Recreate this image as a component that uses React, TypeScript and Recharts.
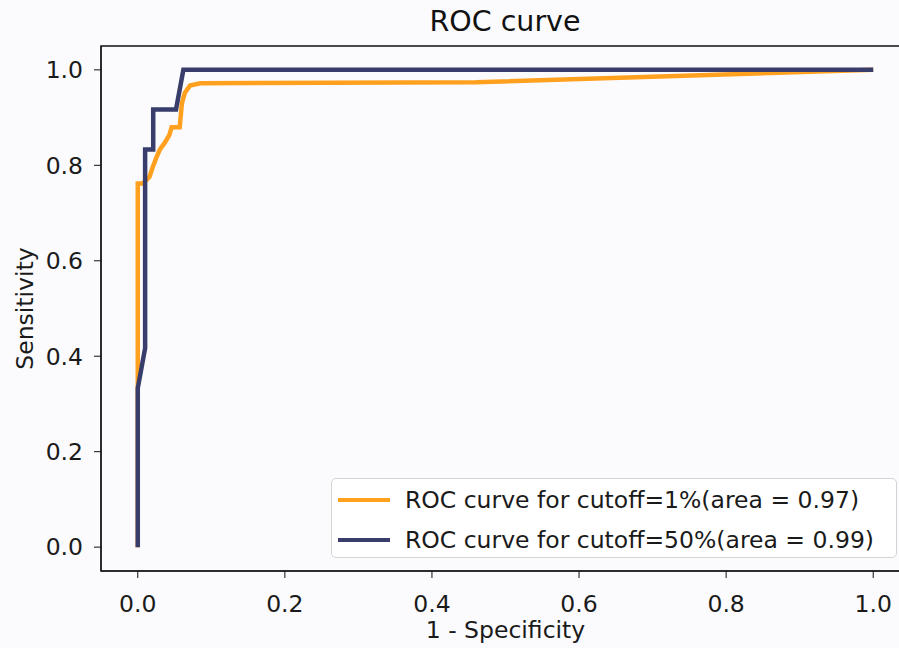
import React from "react";
import { LineChart, Line, XAxis, YAxis, ReferenceArea } from "recharts";

const cutoff1X = [0, 0, 0.007, 0.016, 0.02, 0.025, 0.03, 0.037, 0.043, 0.046, 0.057, 0.06, 0.064, 0.071, 0.085, 0.46, 1.0];
const cutoff1Y = [0, 0.762, 0.762, 0.776, 0.795, 0.815, 0.833, 0.848, 0.864, 0.88, 0.88, 0.93, 0.952, 0.967, 0.972, 0.974, 1.0];
const cutoff50X = [0, 0, 0.01, 0.01, 0.021, 0.021, 0.052, 0.062, 1.0];
const cutoff50Y = [0, 0.333, 0.417, 0.833, 0.833, 0.917, 0.917, 1.0, 1.0];
const tickValues = [0, 0.2, 0.4, 0.6, 0.8, 1.0];
const seriesNames = ["ROC curve for cutoff=1%(area = 0.97)", "ROC curve for cutoff=50%(area = 0.99)"];
const seriesColors = ["#FFA01F", "#383D6C"];

const toPoints = (xs: number[], ys: number[]) => xs.map((x, i) => ({ x, y: ys[i] }));
const data1 = toPoints(cutoff1X, cutoff1Y);
const data50 = toPoints(cutoff50X, cutoff50Y);

const FONT = "'DejaVu Sans', sans-serif";
const FS = 23.5;

const LegendBox = () => (
  <div
    style={{
      position: "absolute",
      left: 331,
      top: 478,
      width: 566,
      height: 80,
      boxSizing: "border-box",
      border: "1.5px solid #d4d4d4",
      borderRadius: 5,
      background: "rgba(255,255,255,0.85)",
      fontFamily: FONT,
      fontSize: FS,
      color: "#1a1a1a",
      paddingTop: 3,
    }}
  >
    {seriesNames.map((n, i) => (
      <div key={n} style={{ display: "flex", alignItems: "center", height: 36, marginBottom: i === 0 ? 4 : 0 }}>
        <div style={{ width: 52, height: 4, background: seriesColors[i], marginLeft: 6, marginRight: 15 }} />
        <span>{n}</span>
      </div>
    ))}
  </div>
);

export default function App() {
  return (
    <div style={{ position: "fixed", left: 0, top: 0, width: 899, height: 648, overflow: "hidden", background: "#FBFBFD" }}>
      <div style={{ position: "absolute", left: 0, top: 5, width: 1010, textAlign: "center", fontFamily: FONT, fontSize: 28.5, color: "#111" }}>
        ROC curve
      </div>
      <LineChart width={940} height={648} margin={{ top: 46, right: 30, bottom: 0, left: 0 }}>
        <XAxis
          dataKey="x"
          type="number"
          domain={[-0.05, 1.05]}
          ticks={tickValues}
          allowDuplicatedCategory={false}
          tickFormatter={(v: number) => v.toFixed(1)}
          height={77}
          tickSize={7}
          tickMargin={17}
          stroke="#111"
          tick={{ fill: "#1a1a1a", fontSize: FS, fontFamily: FONT }}
          label={{ value: "1 - Specificity", position: "insideBottom", offset: 10, fill: "#1a1a1a", fontSize: FS, fontFamily: FONT }}
        />
        <YAxis
          dataKey="y"
          type="number"
          domain={[-0.05, 1.05]}
          ticks={tickValues}
          tickFormatter={(v: number) => v.toFixed(1)}
          width={101}
          tickSize={7}
          tickMargin={11}
          stroke="#111"
          tick={{ fill: "#1a1a1a", fontSize: FS, fontFamily: FONT }}
          label={{ value: "Sensitivity", angle: -90, position: "insideLeft", offset: 25, fill: "#1a1a1a", fontSize: FS, fontFamily: FONT, style: { textAnchor: "middle" } }}
        />
        <ReferenceArea x1={-0.05} x2={1.05} y1={-0.05} y2={1.05} fill="none" stroke="#111" strokeWidth={1.5} />
        <Line data={data1} dataKey="y" name={seriesNames[0]} type="linear" stroke={seriesColors[0]} strokeWidth={4.5} dot={false} isAnimationActive={false} />
        <Line data={data50} dataKey="y" name={seriesNames[1]} type="linear" stroke={seriesColors[1]} strokeWidth={4.5} dot={false} isAnimationActive={false} />
      </LineChart>
      <LegendBox />
    </div>
  );
}
